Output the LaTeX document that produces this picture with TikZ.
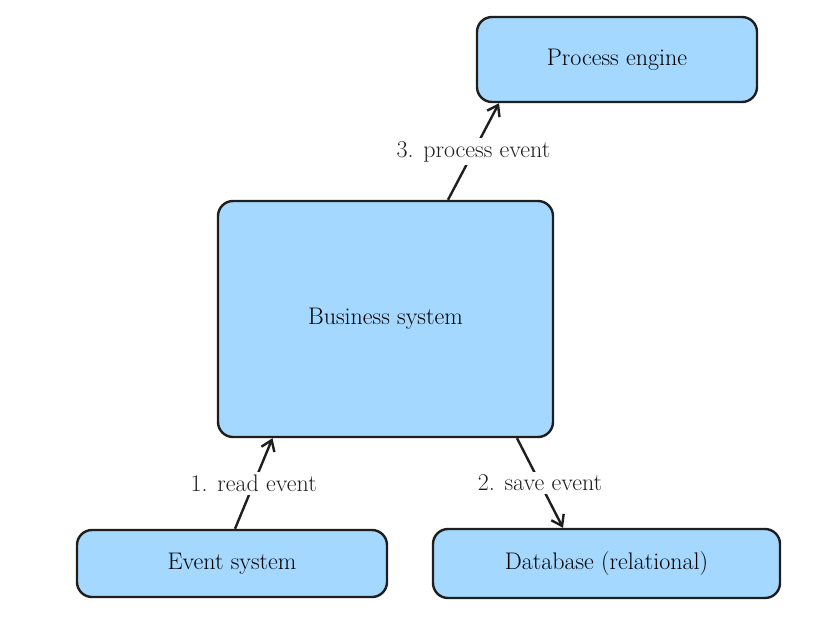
\documentclass[tikz,border=0pt]{standalone}
\usetikzlibrary{arrows.meta}
\definecolor{boxblue}{HTML}{A5D8FF}
\definecolor{ink}{HTML}{1E1E1E}
\begin{document}
\begin{tikzpicture}[x=1pt,y=-1pt,
    box/.style={draw=ink, fill=boxblue, line width=2.4pt, rounded corners=15pt, font=\fontsize{24}{28}\selectfont},
    link/.style={draw=ink, line width=2.4pt, -{Straight Barb[length=10pt,width=14pt,line width=2.4pt]}},
    lbl/.style={fill=white, text=ink, inner sep=3pt, font=\fontsize{24}{28}\selectfont}]
    \useasboundingbox (0,0) rectangle (816,619);

    % boxes
    \node[box, minimum width=280pt, minimum height=85pt] (pe) at (617,59.5) {Process engine};
    \node[box, minimum width=335pt, minimum height=236pt] (bs) at (385.5,319) {Business system};
    \node[box, minimum width=310pt, minimum height=67pt] (es) at (232,563.5) {Event system};
    \node[box, minimum width=347pt, minimum height=69pt] (db) at (606.5,563.5) {Database (relational)};

    % arrows
    \draw[link] ([xshift=3]es.north) -- node[lbl] {1. read event} ([xshift=-113]bs.south);
    \draw[link] ([xshift=131.5]bs.south) -- node[lbl] {2. save event} ([xshift=-43.5]db.north);
    \draw[link] ([xshift=62.5]bs.north) -- node[lbl] {3. process event} ([xshift=-118]pe.south);
\end{tikzpicture}
\end{document}
